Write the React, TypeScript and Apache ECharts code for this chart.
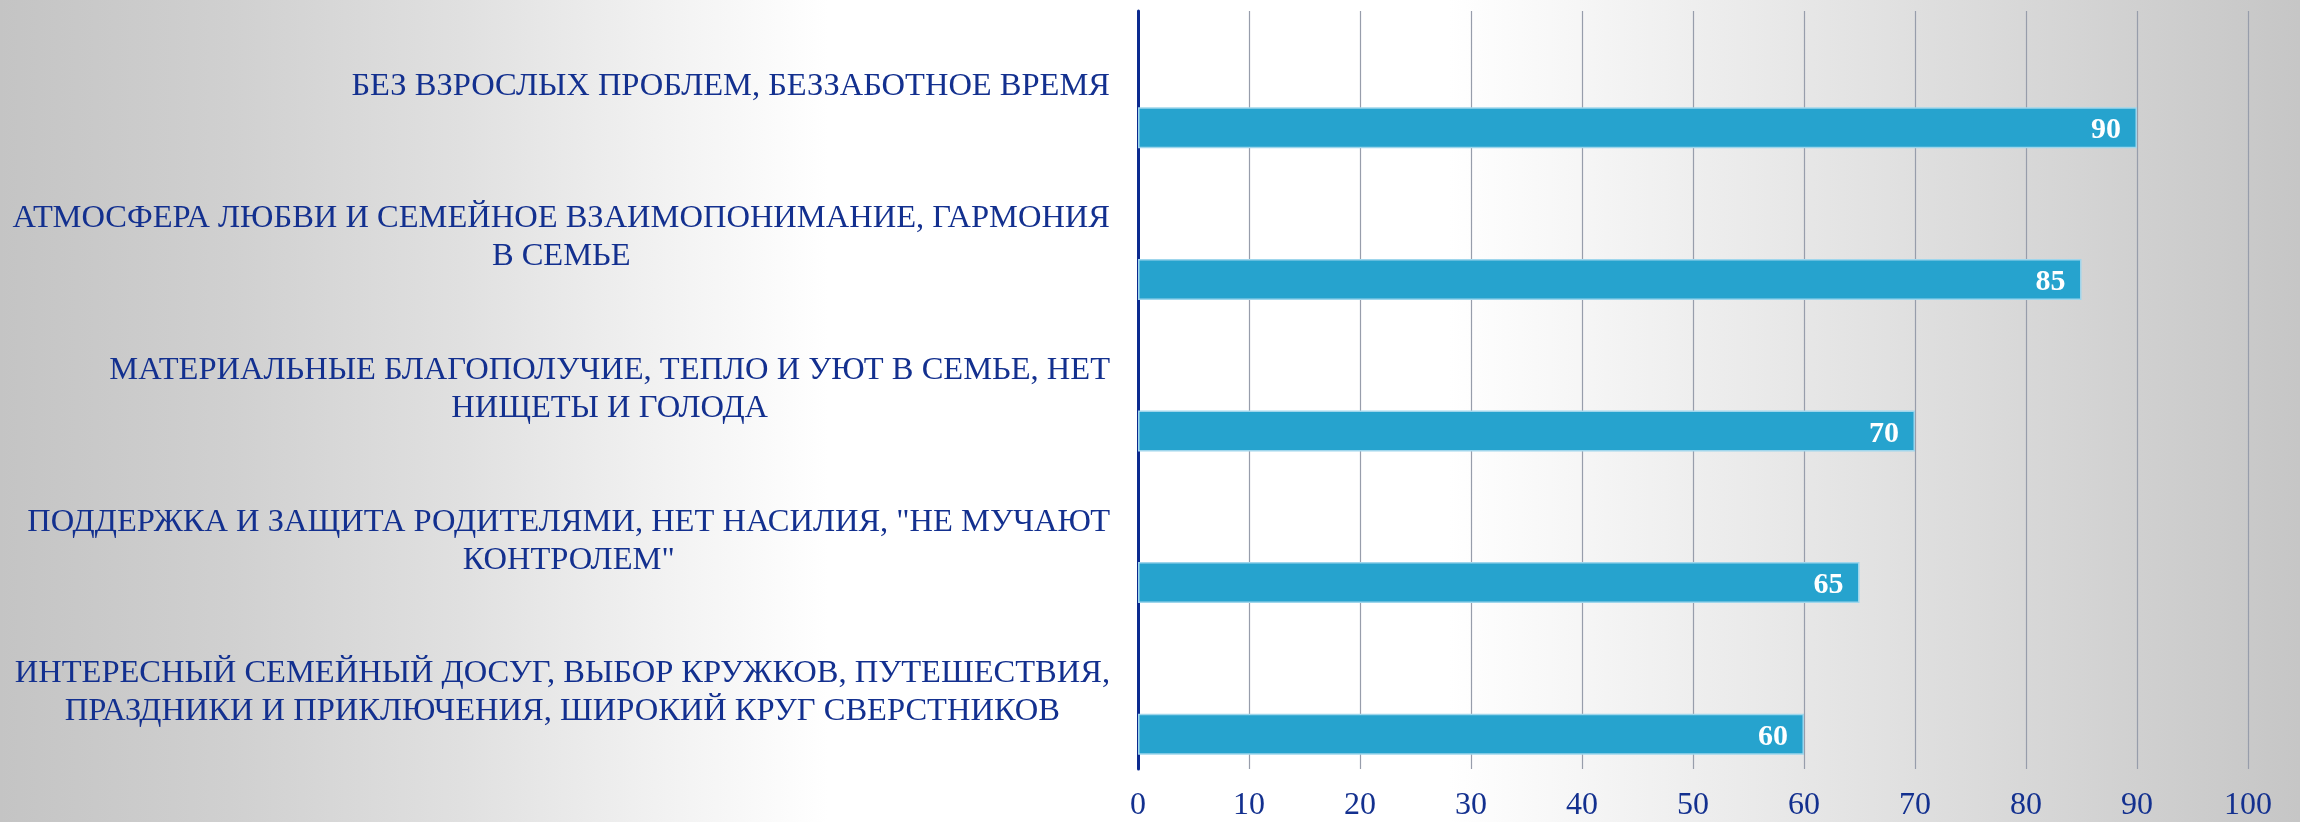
import React, { useEffect, useRef } from "react";
import * as echarts from "echarts";

const categories: string[] = [
  "БЕЗ ВЗРОСЛЫХ ПРОБЛЕМ, БЕЗЗАБОТНОЕ ВРЕМЯ",
  "АТМОСФЕРА ЛЮБВИ И СЕМЕЙНОЕ ВЗАИМОПОНИМАНИЕ, ГАРМОНИЯ\nВ СЕМЬЕ",
  "МАТЕРИАЛЬНЫЕ БЛАГОПОЛУЧИЕ, ТЕПЛО И УЮТ В СЕМЬЕ, НЕТ\nНИЩЕТЫ И ГОЛОДА",
  "ПОДДЕРЖКА И ЗАЩИТА РОДИТЕЛЯМИ, НЕТ НАСИЛИЯ, \"НЕ МУЧАЮТ\nКОНТРОЛЕМ\"",
  "ИНТЕРЕСНЫЙ СЕМЕЙНЫЙ ДОСУГ, ВЫБОР КРУЖКОВ, ПУТЕШЕСТВИЯ,\nПРАЗДНИКИ И ПРИКЛЮЧЕНИЯ, ШИРОКИЙ КРУГ СВЕРСТНИКОВ",
];

const values: number[] = [90, 85, 70, 65, 60];
const emptySeries: (number | string)[] = ["-", "-", "-", "-", "-"];

const xMin = 0;
const xMax = 100;
const xInterval = 10;

const TEXT_BLUE = "#13308f";
const FONT = "'Liberation Serif', 'DejaVu Serif', serif";

export default function App() {
  const ref = useRef<HTMLDivElement>(null);

  useEffect(() => {
    if (!ref.current) return;
    const chart = echarts.init(ref.current, undefined, { renderer: "svg" });

    const bg = new echarts.graphic.LinearGradient(0, 0, 1, 0, [
      { offset: 0, color: "#c4c4c4" },
      { offset: 0.1, color: "#d0d0d0" },
      { offset: 0.2, color: "#e0e0e0" },
      { offset: 0.29, color: "#f2f2f2" },
      { offset: 0.36, color: "#ffffff" },
      { offset: 0.63, color: "#ffffff" },
      { offset: 0.73, color: "#efefef" },
      { offset: 0.84, color: "#dedede" },
      { offset: 0.93, color: "#d0d0d0" },
      { offset: 1, color: "#c6c6c6" },
    ]);

    const barStyle = {
      color: "#26a3ce",
      borderColor: "#9fd6ec",
      borderWidth: 1.5,
    };

    chart.setOption({
      animation: false,
      graphic: [
        {
          type: "rect",
          z: -100,
          silent: true,
          shape: { x: 0, y: 0, width: 2300, height: 822 },
          style: { fill: bg },
        },
      ],
      grid: { left: 1138, right: 52, top: 11, bottom: 53, containLabel: false },
      xAxis: {
        type: "value",
        min: xMin,
        max: xMax,
        interval: xInterval,
        axisLine: { show: false },
        axisTick: { show: false },
        axisLabel: {
          color: TEXT_BLUE,
          fontFamily: FONT,
          fontSize: 32,
          margin: 18,
        },
        splitLine: { show: true, lineStyle: { color: "#979dab", width: 1.2 } },
      },
      yAxis: {
        type: "category",
        inverse: true,
        data: categories,
        axisLine: { show: true, lineStyle: { color: "#0b2a8f", width: 3 } },
        axisTick: { show: false },
        splitLine: { show: false },
        axisLabel: {
          margin: 28,
          align: "right",
          padding: [0, 0, 6, 0],
          formatter: (v: string) =>
            v
              .split("\n")
              .map((l) => "{c|" + l + "}")
              .join("\n"),
          rich: {
            c: {
              align: "center",
              color: TEXT_BLUE,
              fontFamily: FONT,
              fontSize: 32.5,
              lineHeight: 38,
            },
          },
        },
      },
      series: [
        {
          type: "bar",
          data: emptySeries,
          barWidth: 41,
          barGap: "0%",
          barCategoryGap: "20%",
          itemStyle: barStyle,
        },
        {
          type: "bar",
          data: emptySeries,
          barWidth: 41,
          barGap: "0%",
          itemStyle: barStyle,
        },
        {
          type: "bar",
          data: values,
          barWidth: 41,
          barGap: "0%",
          itemStyle: barStyle,
          label: {
            show: true,
            position: "insideRight",
            distance: 16,
            color: "#ffffff",
            fontFamily: FONT,
            fontWeight: "bold",
            fontSize: 30,
          },
        },
      ],
    });

    return () => chart.dispose();
  }, []);

  return (
    <div
      ref={ref}
      style={{ position: "fixed", left: 0, top: 0, width: 2300, height: 822 }}
    />
  );
}
